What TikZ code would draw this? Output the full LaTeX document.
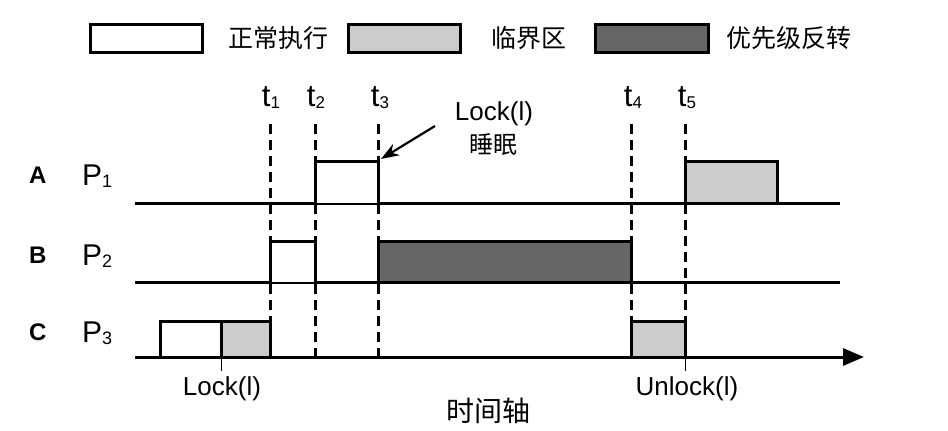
\documentclass[tikz,border=0pt]{standalone}
\usepackage{fontspec}
\setmainfont{Liberation Sans}
\newfontfamily\cjk{Noto Sans CJK SC}
\usetikzlibrary{arrows.meta}
\definecolor{critgray}{RGB}{204,204,204}
\definecolor{invgray}{RGB}{102,102,102}
\newcommand{\subnum}[2]{\raisebox{-2pt}{\fontsize{#1}{#1}\selectfont #2}}
\begin{document}
\begin{tikzpicture}[x=1pt,y=-1pt,
  box/.style={draw=black,line width=3pt,line join=miter},
  runbox/.style={box,fill=white},
  critbox/.style={box,fill=critgray},
  invbox/.style={box,fill=invgray},
  base/.style={line width=3pt},
  tline/.style={line width=3pt,dash pattern=on 10pt off 6pt},
  tick/.style={line width=1pt},
  tlab/.style={font=\fontsize{31}{33}\selectfont,anchor=base,inner sep=0pt},
  plab/.style={font=\fontsize{30}{32}\selectfont,anchor=base west,inner sep=0pt},
  rowlab/.style={font=\fontsize{24}{26}\selectfont\bfseries,anchor=base west,inner sep=0pt},
  leg/.style={font=\fontsize{25}{27}\selectfont\cjk,anchor=west,inner sep=0pt},
  txt/.style={font=\fontsize{26}{28}\selectfont,inner sep=0pt}]
\useasboundingbox (0,0) rectangle (948,431);
% legend
\draw[runbox] (90,24) rectangle (202,52);
\node[leg] (lg1) at (228,38) {正常执行};
\draw[critbox] (348,24) rectangle (460,52);
\node[leg] (lg2) at (491,38) {临界区};
\draw[invbox] (595,24) rectangle (708,52);
\node[leg] (lg3) at (726,38) {优先级反转};
% time labels
\node[tlab] (t1) at (271,106) {t\subnum{17}{1}};
\node[tlab] (t2) at (316,106) {t\subnum{17}{2}};
\node[tlab] (t3) at (380,106) {t\subnum{17}{3}};
\node[tlab] (t4) at (633,106) {t\subnum{17}{4}};
\node[tlab] (t5) at (687,106) {t\subnum{17}{5}};
% dashed time lines
\foreach \x in {270,315,378,631,685}
  \draw[tline] (\x,124) -- (\x,357);
% row labels
\node[rowlab] (ra) at (29,183) {A};
\node[plab] (p1) at (82,185) {P\subnum{18}{1}};
\node[rowlab] (rb) at (29,263) {B};
\node[plab] (p2) at (82,265) {P\subnum{18}{2}};
\node[rowlab] (rc) at (29,340) {C};
\node[plab] (p3) at (82,342) {P\subnum{18}{3}};
% baselines
\draw[base] (135,203) -- (840,203);
\draw[base] (135,282) -- (840,282);
% P1
\draw[runbox] (315,203) -- (315,161) -- (378,161) -- (378,203);
\draw[critbox] (685,203) rectangle (777,161);
% P2
\draw[runbox] (270,282) -- (270,241) -- (315,241) -- (315,282);
\draw[invbox] (378,282) rectangle (631,241);
% P3
\draw[runbox] (160,357) rectangle (221,321);
\draw[critbox] (221,357) rectangle (270,321);
\draw[critbox] (631,357) rectangle (685,321);
% time axis
\coordinate (ax0) at (135,357);
\coordinate (ax1) at (864,357);
\draw[base,-{Triangle[length=21pt,width=17pt]}] (ax0) -- (ax1);
\draw[tick] (221,357) -- (221,371);
\draw[tick] (685,357) -- (685,371);
\node[txt,anchor=base] (lockb) at (222,395) {Lock(l)};
\node[txt,anchor=base] (unlock) at (687,395) {Unlock(l)};
\node[txt,font=\fontsize{28}{30}\selectfont\cjk] (axis) at (488,411) {时间轴};
% Lock annotation
\node[txt,anchor=base] (lockt) at (494,120) {Lock(l)};
\node[txt,font=\fontsize{24}{26}\selectfont\cjk] (sleep) at (493,145) {睡眠};
\coordinate (tip) at (381,159);
\draw[line width=2.2pt,-{Stealth[length=18pt,width=13pt]}] (435,126) -- (tip);
\end{tikzpicture}
\end{document}
